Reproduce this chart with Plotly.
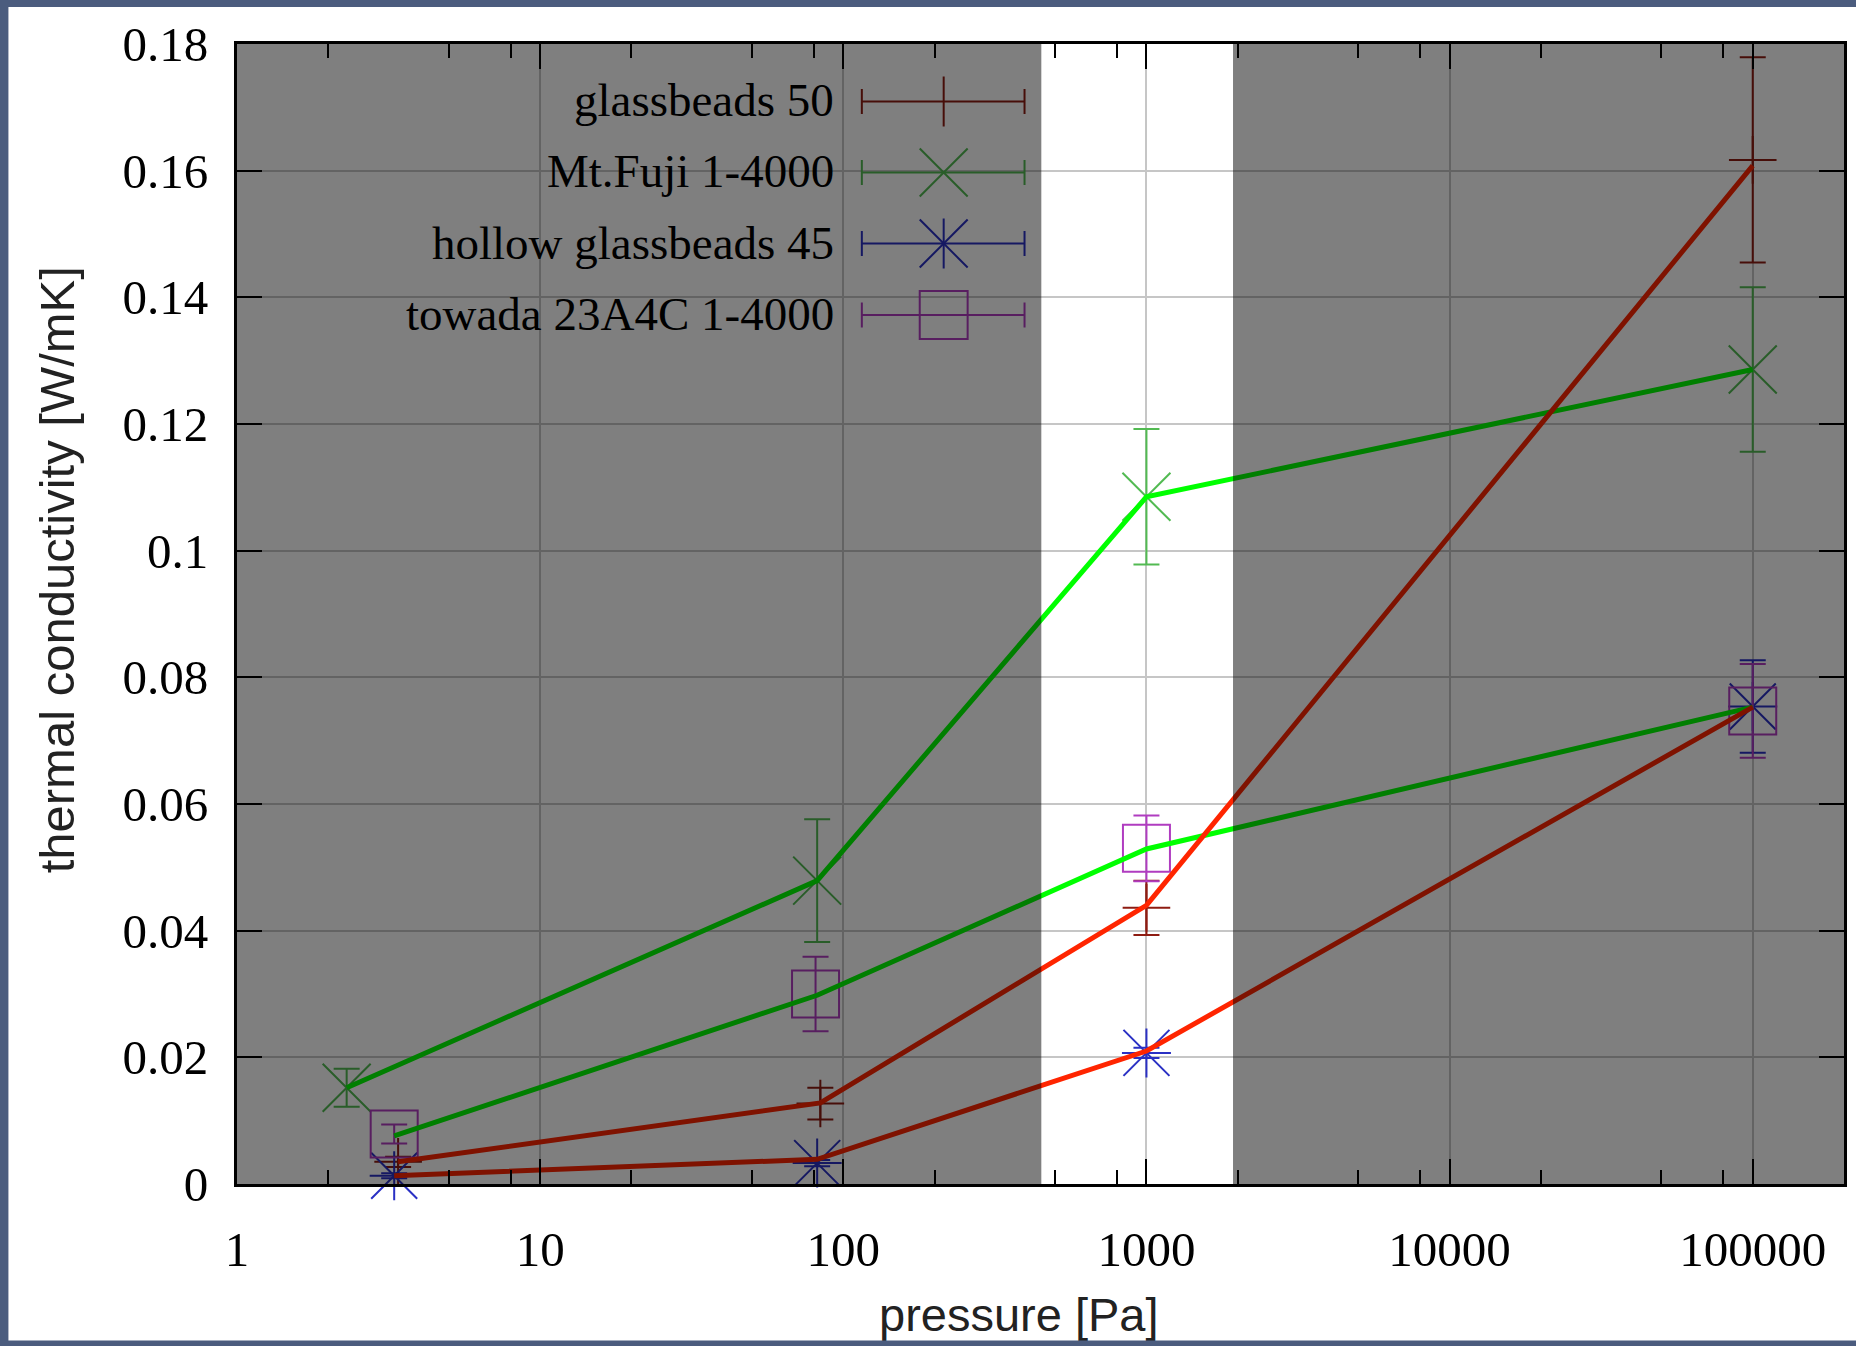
import numpy as np
import plotly.graph_objects as go

# ---------------- data ----------------
series_names = ["glassbeads 50", "Mt.Fuji 1-4000", "hollow glassbeads 45", "towada 23A4C 1-4000"]

glass_x = [3.4, 84, 1000, 100000]
glass_y = [0.0035, 0.0127, 0.0436, 0.1617]
glass_err = [0.0008, 0.0025, 0.0043, 0.0162]

fuji_x = [2.3, 82, 1000, 100000]
fuji_y = [0.0152, 0.0479, 0.1085, 0.1286]
fuji_err = [0.0030, 0.0097, 0.0107, 0.0130]

hollow_x = [3.3, 82, 1000, 100000]
hollow_y = [0.0013, 0.0033, 0.0207, 0.0754]
hollow_err = [0.0004, 0.0005, 0.0008, 0.0073]

towada_x = [3.3, 81, 1000, 100000]
towada_y = [0.0079, 0.0300, 0.0530, 0.0747]
towada_err = [0.0015, 0.0059, 0.0052, 0.0074]

# connecting lines
fuji_line_x = [2.3, 82, 1000, 100000]
fuji_line_y = [0.0152, 0.0479, 0.1085, 0.1286]
towada_line_x = [3.3, 82, 1000, 100000]
towada_line_y = [0.0076, 0.0298, 0.0529, 0.0753]
glass_line_x = [3.4, 84, 1000, 100000]
glass_line_y = [0.0035, 0.0128, 0.0440, 0.1608]
hollow_line_x = [3.3, 82, 1000, 100000]
hollow_line_y = [0.0013, 0.0039, 0.0210, 0.0753]

x_tickvals = [1, 10, 100, 1000, 10000, 100000]
x_ticktext = ["1", "10", "100", "1000", "10000", "100000"]
x_minorvals = [m * 10 ** k for k in range(0, 6) for m in (2, 5, 8)]
y_tickvals = [0, 0.02, 0.04, 0.06, 0.08, 0.10, 0.12, 0.14, 0.16, 0.18]
y_ticktext = ["0", "0.02", "0.04", "0.06", "0.08", "0.1", "0.12", "0.14", "0.16", "0.18"]

band_lo, band_hi = 450, 1930      # unshaded pressure band
XMIN, XMAX = 1, 2e5
YMIN, YMAX = 0, 0.18

# ---------------- geometry / style ----------------
W, H = 1856, 1346
ML, MR, MT, MB = 237, 9, 44, 162
PW = W - ML - MR
PH = H - MT - MB


def px(X):
    return (X - ML) / PW


def py(Y):
    return (H - MB - Y) / PH


def xpaper(v):
    return (np.log10(v) - np.log10(XMIN)) / (np.log10(XMAX) - np.log10(XMIN))


C_GLASS = "#8e1c12"
C_FUJI = "#52ba52"
C_HOLLOW = "#2a30c4"
C_TOWADA = "#b03cc0"
LINE_GREEN = "#00ff00"
LINE_RED = "#ff2500"
BG_BLUE = "#4b5c7e"
SERIF = "Liberation Serif"
SANS = "Liberation Sans"

fig = go.Figure()


def err(arr, color):
    return dict(type="data", array=arr, color=color, thickness=2, width=13)


fig.add_trace(go.Scatter(x=glass_x, y=glass_y, mode="markers", cliponaxis=False,
                         marker=dict(symbol="cross-thin", size=34, color=C_GLASS,
                                     line=dict(width=2, color=C_GLASS)),
                         error_y=err(glass_err, C_GLASS), showlegend=False))
fig.add_trace(go.Scatter(x=fuji_x, y=fuji_y, mode="markers", cliponaxis=False,
                         marker=dict(symbol="x-thin", size=48, color=C_FUJI,
                                     line=dict(width=2, color=C_FUJI)),
                         error_y=err(fuji_err, C_FUJI), showlegend=False))
fig.add_trace(go.Scatter(x=hollow_x, y=hollow_y, mode="markers", cliponaxis=False,
                         marker=dict(symbol="cross-thin", size=35, color=C_HOLLOW,
                                     line=dict(width=2, color=C_HOLLOW)),
                         error_y=err(hollow_err, C_HOLLOW), showlegend=False))
fig.add_trace(go.Scatter(x=hollow_x, y=hollow_y, mode="markers", cliponaxis=False,
                         marker=dict(symbol="x-thin", size=46, color=C_HOLLOW,
                                     line=dict(width=2, color=C_HOLLOW)),
                         showlegend=False))
fig.add_trace(go.Scatter(x=towada_x, y=towada_y, mode="markers", cliponaxis=False,
                         marker=dict(symbol="square-open", size=47, color=C_TOWADA,
                                     line=dict(width=2, color=C_TOWADA)),
                         error_y=err(towada_err, C_TOWADA), showlegend=False))

for lx, ly, lc in [(fuji_line_x, fuji_line_y, LINE_GREEN),
                   (towada_line_x, towada_line_y, LINE_GREEN),
                   (glass_line_x, glass_line_y, LINE_RED),
                   (hollow_line_x, hollow_line_y, LINE_RED)]:
    fig.add_trace(go.Scatter(x=lx, y=ly, mode="lines", line=dict(color=lc, width=5),
                             showlegend=False))

shapes = []
# white slide panel
shapes.append(dict(type="rect", xref="paper", yref="paper", layer="below",
                   x0=px(8), x1=px(W + 20), y0=py(1341), y1=py(7),
                   fillcolor="white", line=dict(width=0)))
# opaque legend box (hides grid)
shapes.append(dict(type="rect", xref="paper", yref="paper", layer="between",
                   x0=0, x1=px(1050), y0=py(350), y1=1,
                   fillcolor="white", line=dict(width=0)))

# legend samples
leg_rows = [101.5, 172.5, 243.5, 315]
leg_colors = [C_GLASS, C_FUJI, C_HOLLOW, C_TOWADA]
LX0, LX1, LXC = 863, 1026, 945


def seg(X0, Y0, X1, Y1, color):
    return dict(type="line", xref="paper", yref="paper", layer="above",
                x0=px(X0), y0=py(Y0), x1=px(X1), y1=py(Y1),
                line=dict(color=color, width=2))


for i, (ry, col) in enumerate(zip(leg_rows, leg_colors)):
    shapes.append(seg(LX0, ry, LX1, ry, col))
    shapes.append(seg(LX0, ry - 12.5, LX0, ry + 12.5, col))
    shapes.append(seg(LX1, ry - 12.5, LX1, ry + 12.5, col))
    if i == 0:
        shapes.append(seg(LXC, ry - 25, LXC, ry + 25, col))
    elif i == 1:
        shapes.append(seg(LXC - 24, ry - 24, LXC + 24, ry + 24, col))
        shapes.append(seg(LXC - 24, ry + 24, LXC + 24, ry - 24, col))
    elif i == 2:
        shapes.append(seg(LXC, ry - 25, LXC, ry + 25, col))
        shapes.append(seg(LXC - 24, ry - 24, LXC + 24, ry + 24, col))
        shapes.append(seg(LXC - 24, ry + 24, LXC + 24, ry - 24, col))
    else:
        shapes.append(dict(type="rect", xref="paper", yref="paper", layer="above",
                           x0=px(LXC - 24), x1=px(LXC + 24), y0=py(ry + 24), y1=py(ry - 24),
                           line=dict(color=col, width=2), fillcolor="rgba(0,0,0,0)"))

# dark overlays outside band
for a, b in [(0, xpaper(band_lo)), (xpaper(band_hi), 1)]:
    shapes.append(dict(type="rect", xref="paper", yref="paper", layer="above",
                       x0=a, x1=b, y0=0, y1=1,
                       fillcolor="rgba(0,0,0,0.5)", line=dict(width=0)))

annotations = []
for name, ry in zip(series_names, leg_rows):
    annotations.append(dict(text=name, xref="paper", yref="paper", x=px(837), y=py(ry - 1),
                            xanchor="right", yanchor="middle", showarrow=False,
                            font=dict(family=SERIF, size=47, color="black")))
annotations.append(dict(text="thermal conductivity [W/mK]", xref="paper", yref="paper",
                        x=px(57), y=py(570), textangle=-90, xanchor="center", yanchor="middle",
                        showarrow=False, font=dict(family=SANS, size=49, color="#222222")))
annotations.append(dict(text="pressure [Pa]", xref="paper", yref="paper",
                        x=px(1020), y=py(1314), xanchor="center", yanchor="middle",
                        showarrow=False, font=dict(family=SANS, size=47, color="#222222")))
# bottom slide border
annotations.append(dict(text=" ", xref="paper", yref="paper", x=px(W / 2), y=py(1343.5),
                        xanchor="center", yanchor="middle", showarrow=False,
                        width=W + 40, height=5, borderpad=0, bgcolor=BG_BLUE,
                        font=dict(size=4)))

axis_common = dict(ticks="inside", ticklen=25, tickwidth=2, tickcolor="black",
                   showline=True, linewidth=3, linecolor="black", mirror="ticks",
                   showgrid=True, gridcolor="#c6c6c6", gridwidth=1.5, zeroline=False,
                   tickfont=dict(family=SERIF, size=49, color="black"))

fig.update_layout(
    width=W, height=H,
    margin=dict(l=ML, r=MR, t=MT, b=MB),
    paper_bgcolor=BG_BLUE, plot_bgcolor="white",
    xaxis=dict(type="log", range=[np.log10(XMIN), np.log10(XMAX)],
               tickmode="array", tickvals=x_tickvals, ticktext=x_ticktext,
               ticklabelstandoff=20,
               minor=dict(tickmode="array", tickvals=x_minorvals, ticks="inside", ticklen=14,
                          tickwidth=2, tickcolor="black", showgrid=False),
               **axis_common),
    yaxis=dict(range=[YMIN, YMAX], tickmode="array", tickvals=y_tickvals, ticktext=y_ticktext,
               ticklabelstandoff=16, **axis_common),
    shapes=shapes,
    annotations=annotations,
    showlegend=False,
)

fig.write_html("out.html",
               config={"displayModeBar": False},
               post_script="document.body.style.margin='0px';"
                           "document.body.style.overflow='hidden';"
                           "document.body.style.background='" + BG_BLUE + "';")
